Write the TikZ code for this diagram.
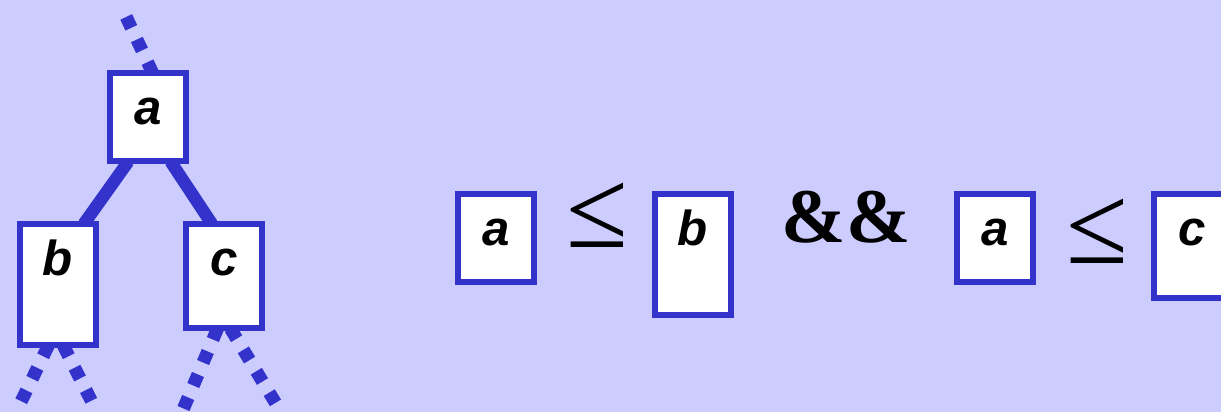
\documentclass[tikz,border=0pt]{standalone}
\usepackage{fontspec}
\newfontfamily\sansfont{Liberation Sans}
\newfontfamily\seriffont{Liberation Serif}
\usepackage{xcolor}
\usetikzlibrary{backgrounds}
\definecolor{lavender}{HTML}{CCCCFF}
\definecolor{nodeblue}{HTML}{3333CC}

\begin{document}
\begin{tikzpicture}[
    x=0.02cm, y=-0.02cm,
    box/.style={draw=nodeblue, line width=0.12cm, fill=white, minimum width=1.52cm, inner sep=0pt, outer sep=0pt,
        anchor=north, text height=1.03cm, font=\fontsize{28}{32}\sansfont\bfseries\itshape},
    low/.style={text depth=0.74cm},
    mid/.style={text depth=1.06cm},
    high/.style={text depth=1.4cm},
    sym/.style={anchor=base, inner sep=0pt, font=\fontsize{64}{68}\seriffont},
    link/.style={nodeblue, line width=0.25cm},
    dots/.style={nodeblue, line width=0.26cm, dash pattern=on 0.24cm off 0.26cm}
]
    \useasboundingbox (0,0) rectangle (1221,412);
    \clip (0,0) rectangle (1221,412);

    \node[box, low] (a) at (148,73) {a};
    \node[box, high] (b) at (58,224) {b};
    \node[box, mid] (c) at (224,224) {c};
    \coordinate (up) at (122,8);
    \coordinate (bleft) at (16,412);
    \coordinate (bright) at (97,412);
    \coordinate (cleft) at (182,412);
    \coordinate (cright) at (281,412);

    \node[box, low] (fa) at (496,194) {a};
    \node[sym] (le) at (597,247) {≤};
    \node[box, high] (fb) at (693,194) {b};
    \node[sym, font=\fontsize{44}{48}\seriffont\bfseries] (and) at (846,242) {\&\&};
    \node[box, low] (ga) at (995,194) {a};
    \node[sym] (le2) at (1097,263) {≤};
    \node[box, mid] (gc) at (1192,194) {c};

    \begin{pgfonlayer}{background}
        \fill[lavender] (0,0) rectangle (1221,412);
        \draw[link] (a.-114) -- (b.67);
        \draw[link] (a.-63) -- (c.103);
        \draw[dots] (a.84) -- (up);
        \draw[dots] (b.-99) -- (bleft);
        \draw[dots] (b.-85) -- (bright);
        \draw[dots] (c.-97) -- (cleft);
        \draw[dots] (c.-83) -- (cright);
    \end{pgfonlayer}
\end{tikzpicture}
\end{document}
